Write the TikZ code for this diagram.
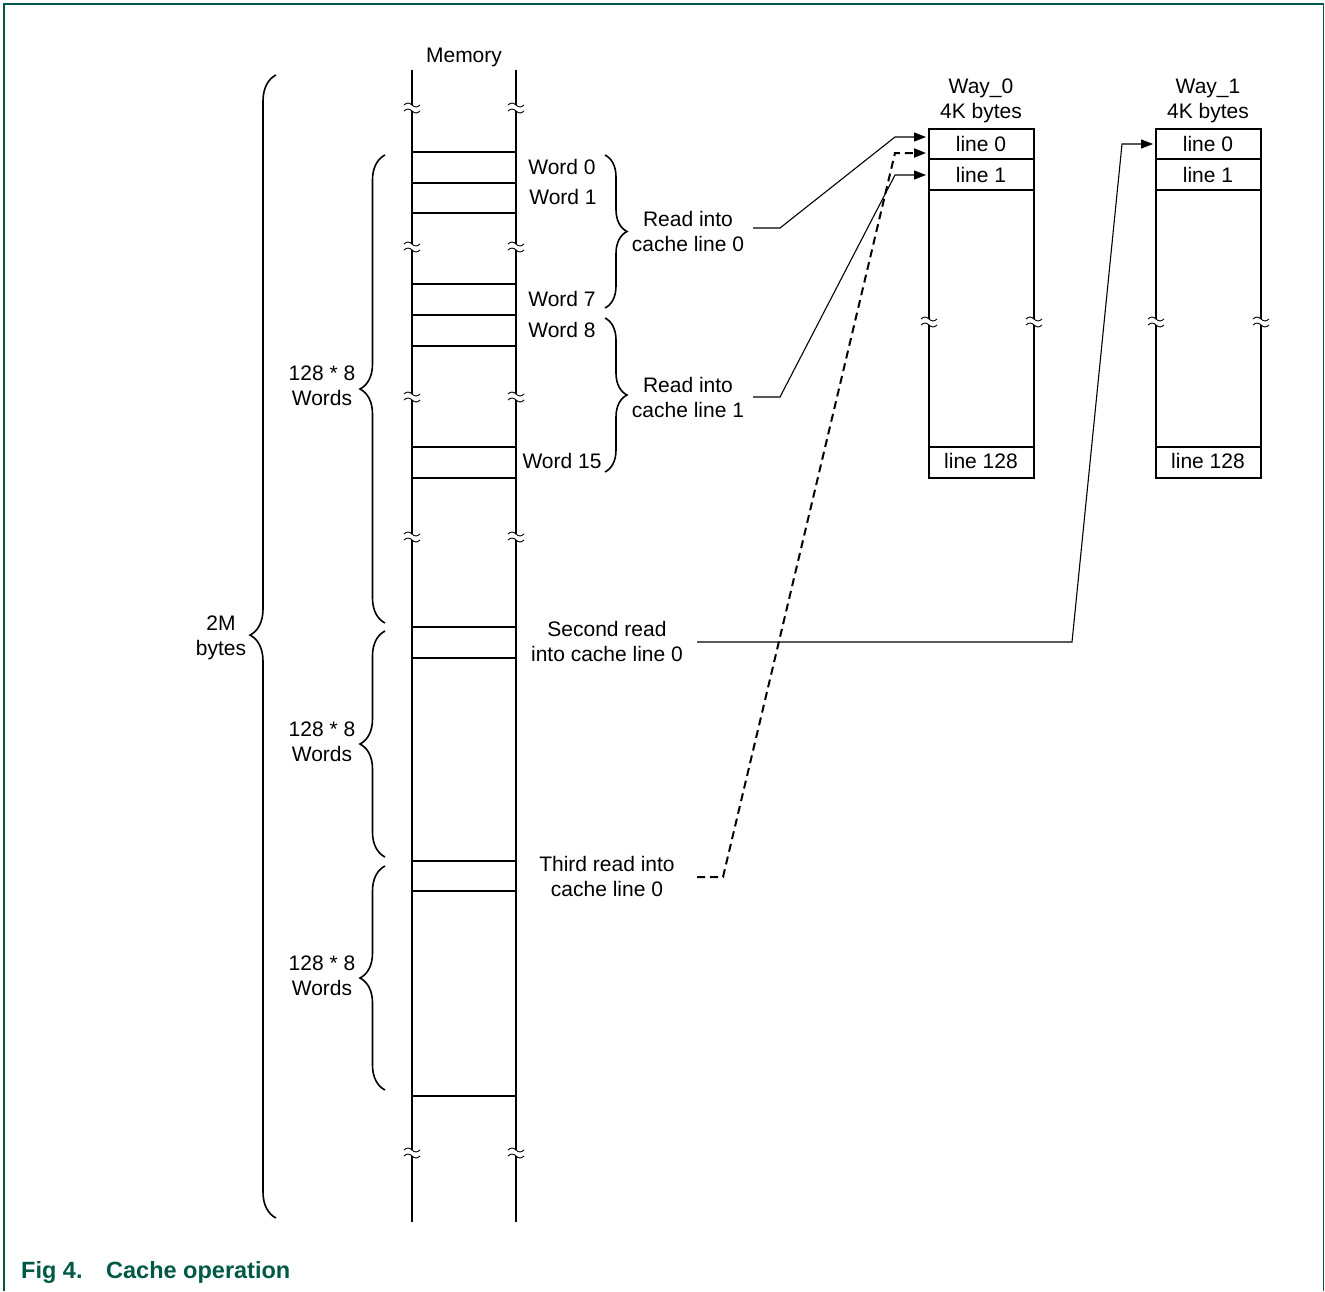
\documentclass[tikz,border=0pt]{standalone}
\usepackage{fontspec}
\setmainfont{Liberation Sans}
\usetikzlibrary{arrows.meta,decorations.pathreplacing}
\definecolor{nxpgreen}{RGB}{0,88,70}
\newcommand\brkmark[2]{%
  \fill[white] (#1-2.5,#2-3) rectangle (#1+2.5,#2+3);
  \draw[line width=0.9pt] (#1-8,#2-3) sin (#1-4,#2-5) cos (#1,#2-3) sin (#1+4,#2-1) cos (#1+8,#2-3);
  \draw[line width=0.9pt] (#1-8,#2+3) sin (#1-4,#2+1) cos (#1,#2+3) sin (#1+4,#2+5) cos (#1+8,#2+3);
}
\begin{document}
\begin{tikzpicture}[x=1pt,y=-1pt,
  txt/.style={font=\fontsize{21}{25}\selectfont, align=center, inner sep=0pt},
  thickline/.style={line width=2pt},
  conn/.style={line width=1.1pt},
  arr/.style={conn,-{Triangle[length=12pt,width=9pt]}},
  brc/.style={decorate, decoration={brace,amplitude=#1}, line width=1.6pt},
]
\useasboundingbox (0,0) rectangle (1325,1291);
% frame
\draw[nxpgreen, line width=1.6pt] (4,1291) -- (4,4) -- (1323.5,4) -- (1323.5,1291);

% memory column
\draw[thickline] (412,70) -- (412,1222);
\draw[thickline] (516,70) -- (516,1222);
\foreach \y in {152,183,213,284,315,346,447,478,627,658,861,891,1096}
  \draw[thickline] (412,\y) -- (516,\y);
\foreach \y in {108,247,397,537,1153} {
  \brkmark{412}{\y}
  \brkmark{516}{\y}
}
\node[txt] (mem) at (464,57.5) {Memory};

% word labels
\node[txt] (w0) at (562,167) {Word 0};
\node[txt] (w1) at (563,197) {Word 1};
\node[txt] (w7) at (562,299) {Word 7};
\node[txt] (w8) at (562,330) {Word 8};
\node[txt] (w15) at (562,461) {Word 15};

% right braces
\draw[brc=22pt] (605,155) -- (605,308);
\draw[brc=22pt] (605,318) -- (605,472);
\node[txt] (r0) at (688,231) {Read into\\cache line 0};
\node[txt] (r1) at (688,397.5) {Read into\\cache line 1};

% left braces
\draw[brc=25pt] (385,623) -- (385,155);
\draw[brc=25pt] (385,857) -- (385,631);
\draw[brc=25pt] (385,1090) -- (385,866);
\draw[decorate, decoration={brace,amplitude=26pt,aspect=0.51}, line width=1.6pt] (276,1218) -- (276,75);
\node[txt] (g1) at (322,385.5) {128 * 8\\Words};
\node[txt] (g2) at (322,742) {128 * 8\\Words};
\node[txt] (g3) at (322,976) {128 * 8\\Words};
\node[txt] (tot) at (221,638) {2M\\bytes};

% other read labels
\node[txt] (sr) at (607,641.5) {Second read\\into cache line 0};
\node[txt] (tr) at (607,876) {Third read into\\cache line 0};

% Way_0
\draw[thickline] (929,129) rectangle (1034,478);
\foreach \y in {159,190,447} \draw[thickline] (929,\y) -- (1034,\y);
\brkmark{929}{322}
\brkmark{1034}{322}
\node[txt] (wa0) at (981,101) {Way\_0\\4K bytes};
\node[txt] (a0) at (981,144) {line 0};
\node[txt] (a1) at (981,175) {line 1};
\node[txt] (a128) at (981,461) {line 128};

% Way_1
\draw[thickline] (1156,129) rectangle (1261,478);
\foreach \y in {159,190,447} \draw[thickline] (1156,\y) -- (1261,\y);
\brkmark{1156}{322}
\brkmark{1261}{322}
\node[txt] (wa1) at (1208,101) {Way\_1\\4K bytes};
\node[txt] (b0) at (1208,144) {line 0};
\node[txt] (b1) at (1208,175) {line 1};
\node[txt] (b128) at (1208,461) {line 128};

% connectors
\draw[arr] (753,228) -- (780,228) -- (895,137) -- (926,137);
\draw[arr] (753,397) -- (780,397) -- (895,175) -- (926,175);
\draw[arr, line width=2pt, dash pattern=on 8pt off 5pt] (697,877) -- (723,877) -- (895,153) -- (926,153);
\draw[arr] (697,642) -- (1072,642) -- (1122,144) -- (1153,144);

% caption
\node[anchor=base west, inner sep=0pt, font=\fontsize{23.5}{28}\selectfont\bfseries, text=nxpgreen] (figno) at (21,1278) {Fig 4.};
\node[anchor=base west, inner sep=0pt, font=\fontsize{23.5}{28}\selectfont\bfseries, text=nxpgreen] (figt) at (106,1278) {Cache operation};
\end{tikzpicture}
\end{document}
